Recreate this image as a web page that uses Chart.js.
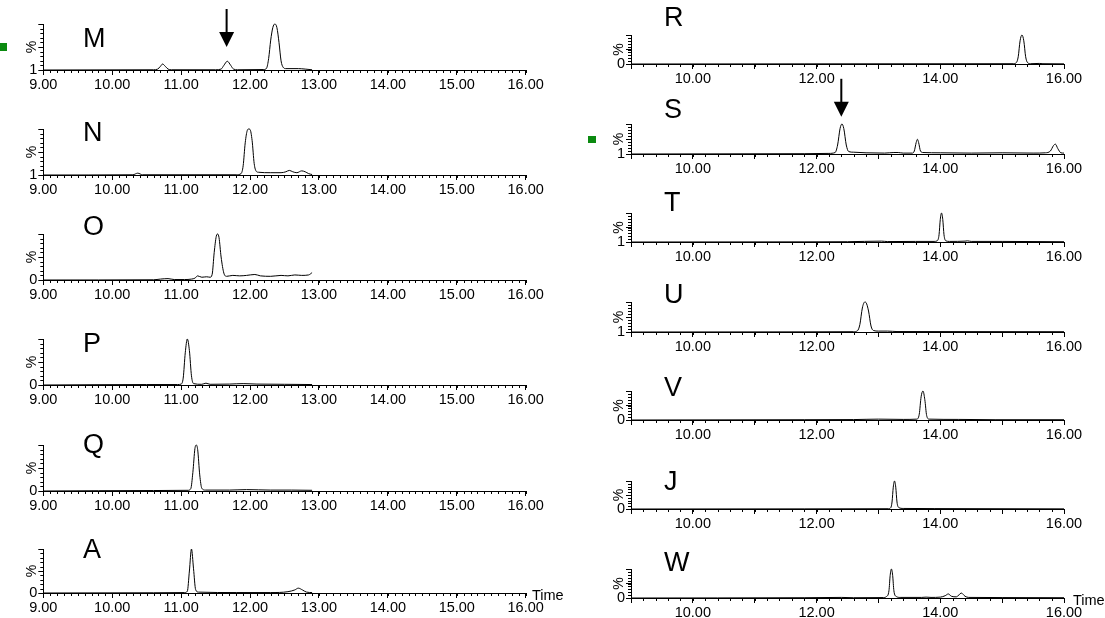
<!DOCTYPE html>
<html>
<head>
<meta charset="utf-8">
<script src="https://cdn.jsdelivr.net/npm/chart.js@4.4.0/dist/chart.umd.min.js"></script>
<style>
  body { margin: 0; width: 1105px; height: 618px; background: #fff; position: relative; overflow: hidden;
         font-family: "Liberation Sans", Arial, sans-serif; color: #000; }
  canvas { position: absolute; }
  .tag { position: absolute; font-size: 27px; line-height: 27px; }
  .time { position: absolute; font-size: 14.5px; line-height: 16px; }
  .mark { position: absolute; background: #0b8a10; }
</style>
</head>
<body>
<script>
// tick labels
const leftTimeLabels = ['9.00', '10.00', '11.00', '12.00', '13.00', '14.00', '15.00', '16.00'];
const rightTimeLabels = ['10.00', '12.00', '14.00', '16.00'];

// left column traces (time in min, intensity in %)
const mTime = [9.00, 10.60, 10.66, 10.70, 10.73, 10.77, 10.81, 10.86, 11.50, 11.58, 11.62, 11.67, 11.72, 11.76, 11.82, 12.20, 12.24, 12.27, 12.30, 12.33, 12.36, 12.39, 12.42, 12.45, 12.48, 12.52, 12.70, 12.80, 12.90];
const mPct  = [0, 0.5, 2, 8, 13, 8, 2, 0.5, 0.5, 2, 10, 19, 10, 2, 0.5, 1, 4, 25, 65, 92, 100, 92, 60, 20, 6, 3, 3, 2, 0.5];

const nTime = [9.00, 10.30, 10.37, 10.44, 11.80, 11.87, 11.90, 11.93, 11.96, 11.98, 12.00, 12.03, 12.06, 12.09, 12.12, 12.30, 12.45, 12.52, 12.57, 12.62, 12.68, 12.75, 12.80, 12.85, 12.90];
const nPct  = [0, 0.5, 4, 0.5, 0.5, 3, 20, 70, 97, 100, 99, 75, 25, 8, 6, 5, 5, 7, 10, 7, 5, 9, 7, 3, 1];

const oTime = [9.00, 10.60, 10.70, 10.81, 10.90, 11.05, 11.15, 11.20, 11.24, 11.30, 11.37, 11.42, 11.45, 11.48, 11.51, 11.53, 11.55, 11.58, 11.62, 11.66, 11.75, 11.85, 11.95, 12.07, 12.15, 12.30, 12.45, 12.55, 12.65, 12.75, 12.85, 12.90];
const oPct  = [0, 0.5, 2, 3, 1, 1, 2, 4, 9, 6, 7, 6, 12, 60, 95, 100, 92, 50, 15, 8, 10, 9, 10, 12, 9, 8, 10, 9, 11, 10, 11, 16];

const pTime = [9.00, 10.50, 10.95, 11.00, 11.03, 11.06, 11.09, 11.12, 11.15, 11.18, 11.30, 11.36, 11.42, 11.70, 11.90, 12.10, 12.50, 12.90];
const pPct  = [0, 1, 1, 2, 15, 70, 100, 75, 20, 3, 1.5, 4, 1.5, 2, 3, 2, 1.5, 1];

const qTime = [9.00, 10.60, 11.10, 11.14, 11.17, 11.20, 11.22, 11.24, 11.27, 11.30, 11.35, 11.70, 11.95, 12.30, 12.60, 12.90];
const qPct  = [0, 1, 1.5, 5, 40, 92, 100, 90, 35, 6, 2, 2, 3, 2, 2, 1.5];

const aTime = [9.00, 10.60, 11.05, 11.09, 11.12, 11.15, 11.18, 11.21, 11.25, 11.80, 12.30, 12.55, 12.65, 12.70, 12.76, 12.82, 12.90];
const aPct  = [0, 0.5, 1, 4, 50, 100, 55, 8, 2, 1, 1, 3, 7, 11, 7, 2, 1];

// right column traces
const rTime = [9.00, 11.80, 15.18, 15.23, 15.26, 15.29, 15.32, 15.35, 15.38, 15.41, 15.46, 15.60, 15.66, 16.00];
const rPct  = [0, 0.5, 1, 5, 25, 80, 100, 80, 25, 5, 1, 2, 1, 0.5];

const sTime = [9.00, 11.80, 12.20, 12.30, 12.34, 12.38, 12.41, 12.44, 12.48, 12.52, 12.60, 12.80, 13.10, 13.25, 13.32, 13.40, 13.55, 13.58, 13.61, 13.63, 13.65, 13.68, 13.72, 14.00, 14.50, 15.00, 15.50, 15.70, 15.78, 15.83, 15.86, 15.90, 15.95, 16.00];
const sPct  = [0, 1, 2, 5, 30, 85, 100, 85, 30, 8, 6, 4, 3, 5, 5, 3, 3, 10, 38, 49, 38, 10, 5, 4, 3, 4, 3, 4, 10, 28, 33, 18, 4, 3];

const tTime = [9.00, 11.80, 12.50, 13.05, 13.15, 13.60, 13.90, 13.95, 13.98, 14.00, 14.02, 14.04, 14.06, 14.09, 14.15, 14.40, 14.44, 14.50, 15.00, 16.00];
const tPct  = [0, 0.5, 1, 3, 1.5, 2, 2, 4, 25, 78, 100, 78, 25, 4, 2, 3, 4, 2, 2, 1];

const uTime = [9.00, 11.80, 12.60, 12.66, 12.70, 12.74, 12.78, 12.80, 12.84, 12.88, 12.92, 13.00, 13.15, 13.30, 16.00];
const uPct  = [0, 0.5, 1, 4, 25, 80, 100, 98, 70, 20, 5, 3, 3, 1.5, 1];

const vTime = [9.00, 11.80, 12.60, 13.00, 13.40, 13.62, 13.66, 13.69, 13.72, 13.75, 13.78, 13.82, 14.30, 14.90, 16.00];
const vPct  = [0, 1, 1.5, 3, 2, 3, 20, 80, 100, 70, 15, 3, 2, 1, 1];

const jTime = [9.00, 11.80, 13.16, 13.20, 13.22, 13.24, 13.26, 13.28, 13.30, 13.33, 13.40, 13.90, 16.00];
const jPct  = [0, 0.5, 1, 5, 25, 78, 100, 78, 25, 5, 2, 1.5, 0.5];

const wTime = [9.00, 11.80, 12.40, 12.60, 13.08, 13.13, 13.17, 13.19, 13.21, 13.23, 13.25, 13.29, 13.35, 13.70, 13.77, 13.85, 14.00, 14.08, 14.13, 14.18, 14.26, 14.34, 14.40, 14.46, 15.00, 16.00];
const wPct  = [0, 1, 2, 1, 1.5, 5, 25, 78, 100, 78, 25, 5, 2, 2, 3, 2, 3, 8, 14, 6, 4, 17, 6, 2, 1.5, 1];

// layout of the two columns
const COLS = {
  L: { left: 0, width: 560, padL: 23.3, padR: 34.3, labels: leftTimeLabels, minor: 0.1, tagX: 83 },
  R: { left: 590, width: 515, padL: 21, padR: 41, labels: rightTimeLabels, minor: 0.2, tagX: 664 }
};

const panels = [
  { name: 'M', col: 'L', time: mTime, pct: mPct, low: '1', top: 24, base: 70, tagY: 25, padTop: 24, arrow: { time: 11.66, tip: 50 } },
  { name: 'N', col: 'L', time: nTime, pct: nPct, low: '1', top: 129, base: 175, tagY: 119 },
  { name: 'O', col: 'L', time: oTime, pct: oPct, low: '0', top: 234, base: 280, tagY: 213 },
  { name: 'P', col: 'L', time: pTime, pct: pPct, low: '0', top: 339, base: 385, tagY: 330 },
  { name: 'Q', col: 'L', time: qTime, pct: qPct, low: '0', top: 445, base: 491, tagY: 431 },
  { name: 'A', col: 'L', time: aTime, pct: aPct, low: '0', top: 549, base: 593, tagY: 536, timeTitle: true },
  { name: 'R', col: 'R', time: rTime, pct: rPct, low: '0', top: 35, base: 64, tagY: 4 },
  { name: 'S', col: 'R', time: sTime, pct: sPct, low: '1', top: 124, base: 154, tagY: 96, padTop: 48, arrow: { time: 12.40, tip: 124 } },
  { name: 'T', col: 'R', time: tTime, pct: tPct, low: '1', top: 213, base: 242, tagY: 189 },
  { name: 'U', col: 'R', time: uTime, pct: uPct, low: '1', top: 302, base: 332, tagY: 281 },
  { name: 'V', col: 'R', time: vTime, pct: vPct, low: '0', top: 391, base: 420, tagY: 374 },
  { name: 'J', col: 'R', time: jTime, pct: jPct, low: '0', top: 481, base: 509, tagY: 468 },
  { name: 'W', col: 'R', time: wTime, pct: wPct, low: '0', top: 569, base: 598, tagY: 549, timeTitle: true }
];

Chart.defaults.font.family = '"Liberation Sans", Arial, sans-serif';
Chart.defaults.color = '#000';

// minor ticks on both axes and the peak arrows
const chromDecor = {
  id: 'chromDecor',
  afterDraw(chart, args, o) {
    const { ctx, chartArea: a } = chart;
    const x = chart.scales.x, y = chart.scales.y;
    ctx.save();
    ctx.strokeStyle = '#000';
    ctx.lineWidth = 1;
    ctx.beginPath();
    const n = Math.round(7 / o.minor);
    for (let i = 0; i <= n; i++) {
      const px = Math.round(x.getPixelForValue(9 + i * o.minor)) + 0.5;
      ctx.moveTo(px, a.bottom);
      ctx.lineTo(px, a.bottom + 3);
    }
    for (let v = 0; v <= 100; v += 10) {
      const py = Math.round(y.getPixelForValue(v)) + 0.5;
      ctx.moveTo(a.left - 3, py);
      ctx.lineTo(a.left, py);
    }
    ctx.stroke();
    if (o.arrow) {
      const ax = x.getPixelForValue(o.arrow.time);
      const tip = y.getPixelForValue(o.arrow.tip);
      ctx.fillStyle = '#000';
      ctx.fillRect(ax - 1, tip - 38, 2, 24);
      ctx.beginPath();
      ctx.moveTo(ax - 7.5, tip - 15);
      ctx.lineTo(ax + 7.5, tip - 15);
      ctx.lineTo(ax, tip);
      ctx.closePath();
      ctx.fill();
    }
    ctx.restore();
  }
};

function addDiv(cls, text, left, top, w, h) {
  const d = document.createElement('div');
  d.className = cls;
  if (text) d.textContent = text;
  d.style.left = left + 'px';
  d.style.top = top + 'px';
  if (w) { d.style.width = w + 'px'; d.style.height = h + 'px'; }
  document.body.appendChild(d);
}

panels.forEach(p => {
  const c = COLS[p.col];
  const padTop = p.padTop || 10, padBottom = 2, xh = 22;
  const h = padTop + (p.base - p.top) + xh + padBottom;
  const cv = document.createElement('canvas');
  cv.width = c.width; cv.height = h;
  cv.style.left = c.left + 'px';
  cv.style.top = (p.top - padTop) + 'px';
  cv.style.width = c.width + 'px';
  cv.style.height = h + 'px';
  document.body.appendChild(cv);

  new Chart(cv, {
    type: 'line',
    data: {
      datasets: [{
        data: p.time.map((t, i) => ({ x: t, y: p.pct[i] })),
        borderColor: '#000',
        borderWidth: 1,
        pointRadius: 0,
        cubicInterpolationMode: 'monotone',
        clip: 3
      }]
    },
    options: {
      responsive: false,
      animation: false,
      devicePixelRatio: 1,
      events: [],
      layout: { padding: { left: c.padL, right: c.padR, top: padTop, bottom: padBottom } },
      plugins: {
        legend: { display: false },
        tooltip: { enabled: false },
        chromDecor: { minor: c.minor, arrow: p.arrow }
      },
      scales: {
        x: {
          type: 'linear', min: 9, max: 16,
          afterFit: s => { s.height = xh; },
          border: { color: '#000', width: 1 },
          grid: { drawOnChartArea: false, tickLength: 5, color: '#000', tickColor: '#000' },
          ticks: {
            stepSize: 1, autoSkip: false, maxRotation: 0, minRotation: 0, padding: 1,
            font: { size: 14.5 },
            callback: v => { const s = Number(v).toFixed(2); return c.labels.includes(s) ? s : ''; }
          }
        },
        y: {
          min: 0, max: 100,
          afterFit: s => { s.width = 20; },
          border: { color: '#000', width: 1 },
          grid: { drawOnChartArea: false, tickLength: 5, color: '#000', tickColor: '#000' },
          title: { display: true, text: '%', padding: { top: 0, bottom: 0 }, font: { size: 14 } },
          ticks: {
            stepSize: 50, autoSkip: false, padding: 1,
            font: { size: 14.5 },
            callback: v => (v === 0 ? p.low : '')
          }
        }
      }
    },
    plugins: [chromDecor]
  });

  addDiv('tag', p.name, c.tagX, p.tagY);
  if (p.timeTitle) {
    const tx = p.col === 'L' ? 532 : 1073;
    addDiv('time', 'Time', tx, p.base - 6);
  }
});

// green sample markers
addDiv('mark', '', 0, 43, 7, 8);
addDiv('mark', '', 588, 136, 8, 7);
</script>
</body>
</html>
